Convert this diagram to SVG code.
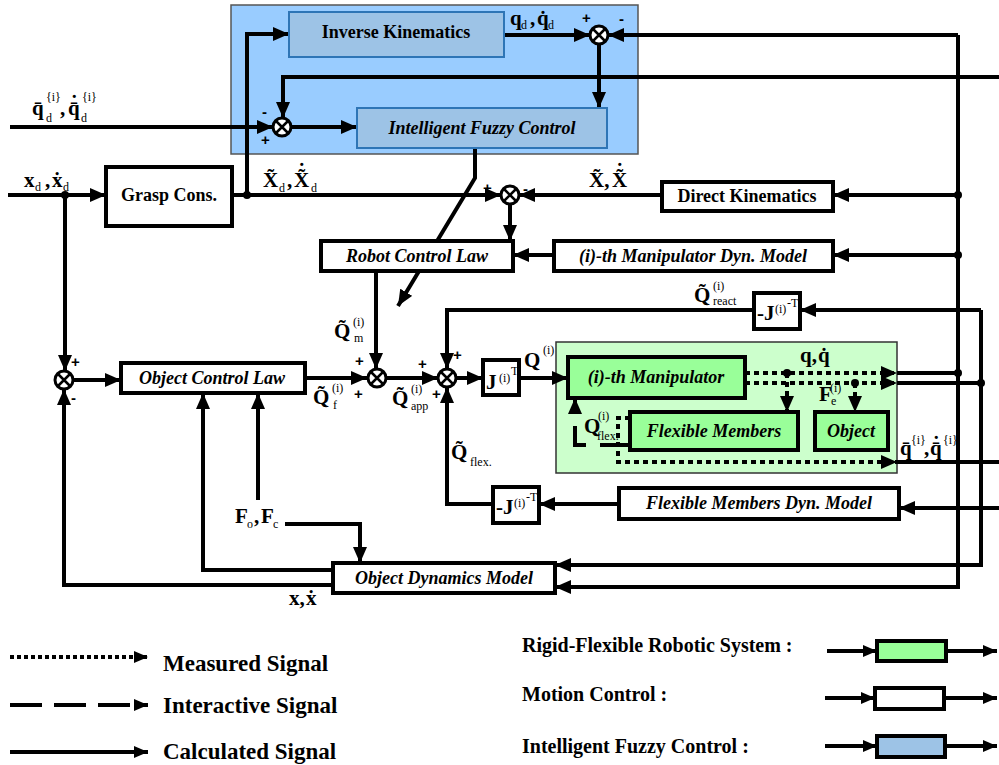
<svg xmlns="http://www.w3.org/2000/svg" width="999" height="765" viewBox="0 0 999 765">
<defs>
<marker id="ah" markerUnits="userSpaceOnUse" markerWidth="16" markerHeight="14" refX="16" refY="7" orient="auto">
<path d="M0,0 L16,7 L0,14 z" fill="#000"/>
</marker>
<marker id="as" markerUnits="userSpaceOnUse" markerWidth="14" markerHeight="12" refX="14" refY="6" orient="auto">
<path d="M0,0 L14,6 L0,12 z" fill="#000"/>
</marker>
</defs>
<style>
.ln{fill:none;stroke:#000;stroke-width:4}
.a{marker-end:url(#ah)}
.dot{stroke-dasharray:5 4}
.dash{stroke-dasharray:30 14}
.box{fill:#fff;stroke:#000;stroke-width:4}
.fz{fill:#9dc3e6;stroke:#2e75b6;stroke-width:2}
.gb{fill:#99ff99;stroke:#000;stroke-width:4}
.t{font-family:"Liberation Serif","Times New Roman",serif;font-weight:bold;font-size:18px;fill:#000}
.ti{font-family:"Liberation Serif","Times New Roman",serif;font-weight:bold;font-style:italic;font-size:18px;fill:#000}
.m{font-family:"Liberation Serif","Times New Roman",serif;font-weight:bold;font-size:21px;fill:#000}
.s{font-family:"Liberation Serif","Times New Roman",serif;font-weight:normal;font-size:12px;fill:#000}
.pm{font-family:"Liberation Sans",Arial,sans-serif;font-weight:bold;font-size:15px;fill:#000}
.lg{font-family:"Liberation Serif","Times New Roman",serif;font-weight:bold;font-size:23px;fill:#000}
.lr{font-family:"Liberation Serif","Times New Roman",serif;font-weight:bold;font-size:20px;fill:#000}
.j{fill:#fff;stroke:#000;stroke-width:3}
.x{stroke:#000;stroke-width:2.5}
</style>

<rect id="fuzzy-region" x="231" y="5" width="407" height="149" fill="#99ccff" stroke="#555" stroke-width="1.5"/>
<rect id="green-region" x="556" y="342" width="341" height="131" fill="#ccffcc" stroke="#333" stroke-width="1.5"/>

<g id="connectors">
<path class="ln a" d="M8,195 H106"/>
<path class="ln a" d="M65,195 V371"/>
<path class="ln a" d="M232,195 H501"/>
<path class="ln a" d="M247,195 V34 H289"/>
<path class="ln a" d="M504,35 H590"/>
<path class="ln a" d="M958,35 H608"/>
<path class="ln a" d="M599,44 V108"/>
<path class="ln a" d="M999,77 H283 V118"/>
<path class="ln a" d="M10,127 H273"/>
<path class="ln a" d="M291,127 H357"/>
<path class="ln a" d="M475,148 V178 L398,306"/>
<path class="ln a" d="M958,195 H833"/>
<path class="ln a" d="M662,195 H519"/>
<path class="ln a" d="M510,204 V241"/>
<path class="ln a" d="M958,255 H833"/>
<path class="ln a" d="M554,255 H513"/>
<path class="ln a" d="M376,271 V369"/>
<path class="ln a" d="M958,35 V587 H555"/>
<path class="ln a" d="M981,310 V565 H555"/>
<path class="ln a" d="M981,310 H800"/>
<path class="ln a" d="M754,310 H447 V369"/>
<path class="ln a" d="M305,378 H367"/>
<path class="ln a" d="M386,378 H438"/>
<path class="ln a" d="M456,378 H483"/>
<path class="ln a" d="M519,378 H568"/>
<path class="ln" d="M897,373 H958"/>
<path class="ln" d="M897,383 H981"/>
<path class="ln dot a" d="M745,373 H897"/>
<path class="ln dot a" d="M745,383 H897"/>
<path class="ln dot a" d="M787,373 V412"/>
<path class="ln dot a" d="M855,383 V412"/>
<path class="ln dot a" d="M630,418 H618 V462 H897"/>
<path class="ln" d="M897,462 H999"/>
<path class="ln dash a" d="M630,445 H575 V398"/>
<path class="ln a" d="M999,508 H899"/>
<path class="ln a" d="M619,504 H539"/>
<path class="ln a" d="M493,504 H447 V387"/>
<path class="ln a" d="M73,380 H121"/>
<path class="ln a" d="M333,585 H64 V389"/>
<path class="ln a" d="M333,570 H203 V393"/>
<path class="ln a" d="M258,500 V393"/>
<path class="ln a" d="M285,524 H360 V563"/>
<circle cx="65" cy="195" r="4"/>
<circle cx="247" cy="195" r="4"/>
<circle cx="958" cy="195" r="4"/>
<circle cx="958" cy="255" r="4"/>
<circle cx="958" cy="373" r="4"/>
<circle cx="981" cy="383" r="4"/>
<circle cx="787" cy="373" r="4"/>
<circle cx="855" cy="383" r="4"/>
</g>

<g id="junction-ik">
<circle class="j" cx="599" cy="35" r="9"/><path class="x" d="M593,29 L605,41 M605,29 L593,41"/>
<text class="pm" x="582" y="23">+</text><text class="pm" x="619" y="24">-</text>
</g>
<g id="junction-fuzzy">
<circle class="j" cx="282" cy="127" r="9"/><path class="x" d="M276,121 L288,133 M288,121 L276,133"/>
<text class="pm" x="262" y="117">-</text><text class="pm" x="261" y="145">+</text>
</g>
<g id="junction-x">
<circle class="j" cx="510" cy="195" r="9"/><path class="x" d="M504,189 L516,201 M516,189 L504,201"/>
<text class="pm" x="483" y="193">+</text><text class="pm" x="523" y="194">-</text>
</g>
<g id="junction-obj">
<circle class="j" cx="64" cy="380" r="9"/><path class="x" d="M58,374 L70,386 M70,374 L58,386"/>
<text class="pm" x="71" y="367">+</text><text class="pm" x="71" y="403">-</text>
</g>
<g id="junction-q1">
<circle class="j" cx="377" cy="378" r="9"/><path class="x" d="M371,372 L383,384 M383,372 L371,384"/>
<text class="pm" x="355" y="366">+</text><text class="pm" x="354" y="399">+</text>
</g>
<g id="junction-q2">
<circle class="j" cx="447" cy="378" r="9"/><path class="x" d="M441,372 L453,384 M453,372 L441,384"/>
<text class="pm" x="418" y="369">+</text><text class="pm" x="453" y="360">+</text><text class="pm" x="432" y="399">+</text>
</g>

<g id="inverse-kinematics"><rect class="fz" x="289" y="12" width="215" height="45"/><text class="t" x="396" y="38" text-anchor="middle">Inverse Kinematics</text></g>
<g id="intelligent-fuzzy-control"><rect class="fz" x="357" y="108" width="250" height="40"/><text class="ti" x="482" y="134" text-anchor="middle">Intelligent Fuzzy Control</text></g>
<g id="grasp-cons"><rect class="box" x="106" y="167" width="126" height="59"/><text class="t" x="169" y="201" text-anchor="middle">Grasp Cons.</text></g>
<g id="direct-kinematics"><rect class="box" x="662" y="182" width="171" height="29"/><text class="t" x="747" y="202" text-anchor="middle">Direct Kinematics</text></g>
<g id="robot-control-law"><rect class="box" x="321" y="241" width="192" height="30"/><text class="ti" x="417" y="262" text-anchor="middle">Robot Control Law</text></g>
<g id="manipulator-dyn-model"><rect class="box" x="554" y="241" width="279" height="30"/><text class="ti" x="693" y="262" text-anchor="middle">(i)-th Manipulator Dyn. Model</text></g>
<g id="object-control-law"><rect class="box" x="121" y="363" width="184" height="30"/><text class="ti" x="212" y="384" text-anchor="middle">Object Control Law</text></g>
<g id="jacobian-T"><rect class="box" x="483" y="360" width="36" height="35"/><text class="m" x="486" y="389">J</text><text class="s" x="499" y="382" font-size="10">(i)</text><text class="s" x="511" y="375" font-size="8">T</text></g>
<g id="neg-jacobian-react"><rect class="box" x="754" y="293" width="46" height="36"/><text class="m" x="757" y="320" font-size="19">-J</text><text class="s" x="775" y="313" font-size="10">(i)</text><text class="s" x="787" y="307" font-size="8">-T</text></g>
<g id="neg-jacobian-flex"><rect class="box" x="493" y="487" width="46" height="36"/><text class="m" x="496" y="514" font-size="19">-J</text><text class="s" x="514" y="507" font-size="10">(i)</text><text class="s" x="526" y="501" font-size="8">-T</text></g>
<g id="manipulator"><rect class="gb" x="568" y="357" width="177" height="41"/><text class="ti" x="656" y="383" text-anchor="middle">(i)-th Manipulator</text></g>
<g id="flexible-members"><rect class="gb" x="630" y="412" width="168" height="38"/><text class="ti" x="714" y="437" text-anchor="middle">Flexible Members</text></g>
<g id="object"><rect class="gb" x="815" y="412" width="73" height="38"/><text class="ti" x="851" y="437" text-anchor="middle">Object</text></g>
<g id="flexible-members-dyn-model"><rect class="box" x="619" y="488" width="280" height="31"/><text class="ti" x="759" y="509" text-anchor="middle">Flexible Members Dyn. Model</text></g>
<g id="object-dynamics-model"><rect class="box" x="333" y="563" width="222" height="30"/><text class="ti" x="444" y="584" text-anchor="middle">Object Dynamics Model</text></g>

<g id="labels">
<text class="m" x="32" y="115">q̄</text><text class="s" x="46" y="101" font-size="11">{i}</text><text class="s" x="46" y="122" font-size="10">d</text>
<text class="m" x="60" y="115">,</text><text class="m" x="68" y="115">q̄<tspan dx="-9" dy="-5">˙</tspan></text><text class="s" x="82" y="101" font-size="11">{i}</text><text class="s" x="81" y="122" font-size="10">d</text>
<text class="m" x="510" y="25" font-size="20">q</text><text class="s" x="521" y="29" font-size="11">d</text><text class="m" x="530" y="25" font-size="20">,</text><text class="m" x="537" y="25" font-size="20">q̇</text><text class="s" x="548" y="29" font-size="11">d</text>
<text class="m" x="24" y="187">x</text><text class="s" x="35" y="191" font-size="11">d</text><text class="m" x="45" y="187">,</text><text class="m" x="52" y="187">ẋ</text><text class="s" x="63" y="191" font-size="11">d</text>
<text class="m" x="263" y="187">X̃</text><text class="s" x="279" y="192" font-size="11">d</text><text class="m" x="287" y="187">,</text><text class="m" x="294" y="187">X̃<tspan dx="-11" dy="-9">˙</tspan></text><text class="s" x="311" y="192" font-size="11">d</text>
<text class="m" x="589" y="187">X̃,</text><text class="m" x="612" y="187">X̃<tspan dx="-11" dy="-9">˙</tspan></text>
<text class="m" x="334" y="338" font-size="22">Q̃</text><text class="s" x="353" y="326">(i)</text><text class="s" x="354" y="342">m</text>
<text class="m" x="313" y="404" font-size="22">Q̃</text><text class="s" x="332" y="392">(i)</text><text class="s" x="333" y="409">f</text>
<text class="m" x="392" y="405" font-size="22">Q̃</text><text class="s" x="411" y="393">(i)</text><text class="s" x="411" y="410">app</text>
<text class="m" x="524" y="367" font-size="22">Q</text><text class="s" x="543" y="354">(i)</text>
<text class="m" x="694" y="302" font-size="22">Q̃</text><text class="s" x="713" y="290">(i)</text><text class="s" x="713" y="305">react</text>
<text class="m" x="800" y="362" font-size="20">q,</text><text class="m" x="818" y="362" font-size="20">q̇</text>
<text class="m" x="819" y="401" font-size="18">F</text><text class="s" x="830" y="392" font-size="10">(i)</text><text class="s" x="831" y="405" font-size="10">e</text>
<text class="m" x="584" y="433" font-size="18">Q</text><text class="s" x="598" y="420" font-size="10">(i)</text><text class="s" x="597" y="440" font-size="10">flex.</text>
<text class="m" x="900" y="455" font-size="20">q̄</text><text class="s" x="911" y="444" font-size="9">{i}</text><text class="m" x="924" y="455" font-size="20">,</text><text class="m" x="930" y="455" font-size="20">q̄<tspan dx="-9" dy="-4">˙</tspan></text><text class="s" x="943" y="444" font-size="9">{i}</text>
<text class="m" x="451" y="459" font-size="22">Q̃</text><text class="s" x="470" y="466" font-size="13">flex.</text>
<text class="m" x="235" y="523">F</text><text class="s" x="247" y="528" font-size="11">o</text><text class="m" x="254" y="523">,</text><text class="m" x="261" y="523">F</text><text class="s" x="273" y="528" font-size="11">c</text>
<text class="m" x="289" y="605" font-size="20">x,</text><text class="m" x="306" y="605" font-size="20">ẋ</text>
</g>

<g id="legend">
<path class="ln" d="M10,657 H148" style="stroke-dasharray:4 3;marker-end:url(#as)"/>
<text class="lg" x="163" y="671">Measured Signal</text>
<path class="ln" d="M10,705 H148" style="stroke-dasharray:32 12;marker-end:url(#as)"/>
<text class="lg" x="163" y="713">Interactive Signal</text>
<path class="ln" d="M10,752 H148" style="marker-end:url(#as)"/>
<text class="lg" x="163" y="759">Calculated Signal</text>
<text class="lr" x="522" y="652">Rigid-Flexible Robotic System :</text>
<path class="ln" d="M827,651 H877" style="marker-end:url(#as)"/>
<rect x="877" y="641" width="69" height="20" fill="#99ff99" stroke="#000" stroke-width="4"/>
<path class="ln" d="M946,651 H997" style="marker-end:url(#as)"/>
<text class="lr" x="522" y="701">Motion Control :</text>
<path class="ln" d="M825,698 H875" style="marker-end:url(#as)"/>
<rect x="875" y="688" width="69" height="21" fill="#fff" stroke="#000" stroke-width="4"/>
<path class="ln" d="M944,698 H997" style="marker-end:url(#as)"/>
<text class="lr" x="522" y="753">Intelligent Fuzzy Control :</text>
<path class="ln" d="M825,746 H877" style="marker-end:url(#as)"/>
<rect x="877" y="736" width="68" height="21" fill="#9dc3e6" stroke="#000" stroke-width="4"/>
<path class="ln" d="M945,746 H997" style="marker-end:url(#as)"/>
</g>
</svg>
